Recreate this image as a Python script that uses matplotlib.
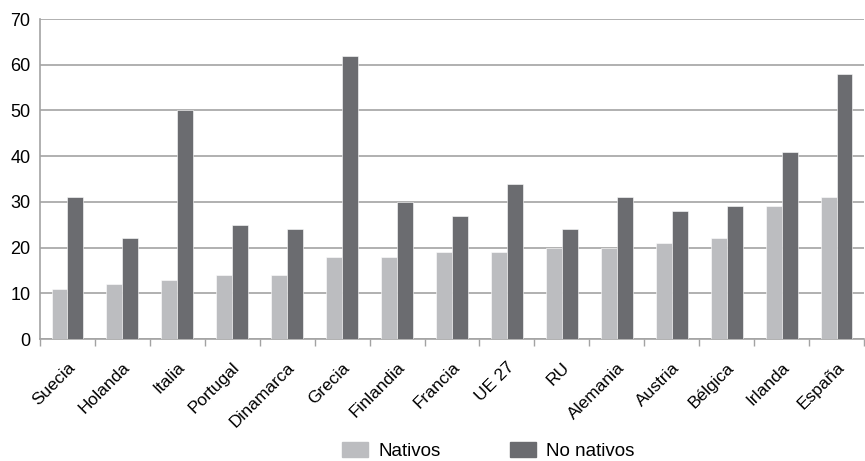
import numpy as np
import matplotlib
matplotlib.use("Agg")
import matplotlib.pyplot as plt
import matplotlib.transforms as mtransforms
from matplotlib.patches import Patch

paises = ["Suecia", "Holanda", "Italia", "Portugal", "Dinamarca", "Grecia",
          "Finlandia", "Francia", "UE 27", "RU", "Alemania", "Austria",
          "Bélgica", "Irlanda", "España"]
nativos = [11, 12, 13, 14, 14, 18, 18, 19, 19, 20, 20, 21, 22, 29, 31]
no_nativos = [31, 22, 50, 25, 24, 62, 30, 27, 34, 24, 31, 28, 29, 41, 58]

C_NAT = "#bcbdc0"
C_NO = "#6b6c70"
GRID = "#a3a3a3"

plt.rcParams["font.family"] = ["Liberation Sans", "DejaVu Sans"]

fig = plt.figure(figsize=(8.65, 4.61), dpi=100)
ax = fig.add_axes([40 / 865, 1 - 339 / 461, 824 / 865, 320 / 461])

x = np.arange(len(paises))
w = 0.29
ax.bar(x - w / 2, nativos, w, color=C_NAT, edgecolor="white", linewidth=0.4, zorder=3)
ax.bar(x + w / 2, no_nativos, w, color=C_NO, edgecolor="white", linewidth=0.4, zorder=3)

ax.set_xlim(-0.5, len(paises) - 0.5)
ax.set_ylim(0, 70)
ax.set_yticks(range(0, 71, 10))
ax.yaxis.grid(True, color=GRID, linewidth=1.2, zorder=0)
ax.set_axisbelow(True)

ax.set_xticks(x)
ax.set_xticklabels(paises, rotation=45, ha="right", rotation_mode="anchor", fontsize=12.5)
shift = mtransforms.ScaledTranslation(2 / 100, 0, fig.dpi_scale_trans)
for lab in ax.get_xticklabels():
    lab.set_transform(lab.get_transform() + shift)
ax.set_xticks(np.arange(-0.5, len(paises), 1), minor=True)
ax.tick_params(axis="x", which="major", length=0, pad=15)
ax.tick_params(axis="x", which="minor", length=5, color=GRID, width=1)
ax.tick_params(axis="y", length=0, labelsize=13, pad=7)

for s in ("top", "right"):
    ax.spines[s].set_visible(False)
for s in ("left", "bottom"):
    ax.spines[s].set_color(GRID)
    ax.spines[s].set_linewidth(1.2)

handles = [Patch(color=C_NAT, label="Nativos"), Patch(color=C_NO, label="No nativos")]
fig.legend(handles=handles, loc="center", bbox_to_anchor=(488 / 865, 1 - 451 / 461),
           ncol=2, frameon=False, fontsize=13.5, borderpad=0, borderaxespad=0,
           handlelength=1.39, handleheight=0.85, columnspacing=3.7, handletextpad=0.53)

fig.savefig("out.png", dpi=100)
